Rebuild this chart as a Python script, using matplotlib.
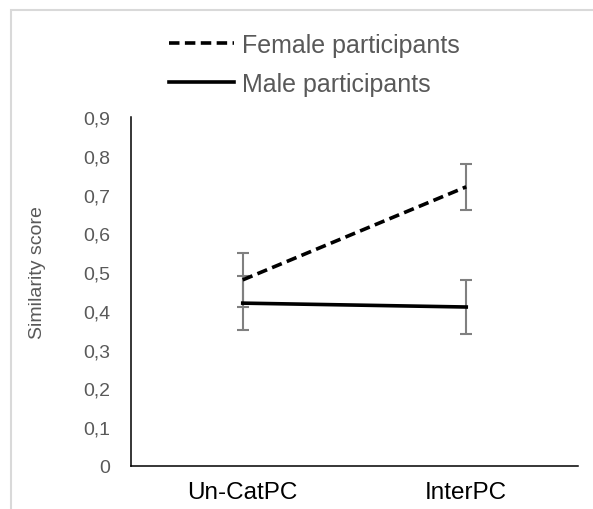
import matplotlib
matplotlib.use("Agg")
import matplotlib.pyplot as plt
from matplotlib.patches import Rectangle

categories = ["Un-CatPC", "InterPC"]
female_values = [0.48, 0.72]
female_errors = [0.07, 0.06]
male_values = [0.42, 0.41]
male_errors = [0.07, 0.07]
y_ticks = [0, 0.1, 0.2, 0.3, 0.4, 0.5, 0.6, 0.7, 0.8, 0.9]
y_tick_labels = ["0", "0,1", "0,2", "0,3", "0,4", "0,5", "0,6", "0,7", "0,8", "0,9"]

plt.rcParams['font.family'] = ['Liberation Sans', 'DejaVu Sans']
W, H = 593, 510
fig = plt.figure(figsize=(W / 100, H / 100), dpi=100)
fig.patch.set_facecolor('white')

# light gray border of the original frame
fig.patches.append(Rectangle((11 / W, -0.1), 1.2, (H - 11) / H + 0.1,
                             transform=fig.transFigure, fill=False,
                             edgecolor='#d9d9d9', linewidth=1.5, clip_on=False))

ax = fig.add_axes([131 / W, (H - 467) / H, 447 / W, 349 / H])
x = list(range(len(categories)))
gray = '#808080'
txt = '#595959'

ax.errorbar(x, female_values, yerr=female_errors, fmt='none', ecolor=gray,
            elinewidth=1.5, capsize=4.5, capthick=1.5, zorder=2)
ax.errorbar(x, male_values, yerr=male_errors, fmt='none', ecolor=gray,
            elinewidth=1.5, capsize=4.5, capthick=1.5, zorder=2)
lf, = ax.plot(x, female_values, color='black', linewidth=2.6,
              dashes=(2.9, 1.5), zorder=3, label='Female participants')
lm, = ax.plot(x, male_values, color='black', linewidth=2.6, zorder=3,
              label='Male participants')

ax.set_xlim(-0.5, 1.5)
ax.set_ylim(0, 0.9)
ax.set_yticks(y_ticks)
ax.set_yticklabels(y_tick_labels)
ax.set_xticks(x)
ax.set_xticklabels(categories)
ax.tick_params(axis='y', length=0, pad=15, labelsize=14, labelcolor=txt)
ax.tick_params(axis='x', length=0, pad=11, labelsize=17.5, labelcolor='black')
for s in ['top', 'right']:
    ax.spines[s].set_visible(False)
for s in ['left', 'bottom']:
    ax.spines[s].set_color('black')
    ax.spines[s].set_linewidth(1.1)

fig.text(37 / W, 1 - 273 / H, "Similarity score", rotation=90, ha='center',
         va='center', fontsize=14, color=txt)

fig.legend(handles=[lf, lm], loc='upper left',
           bbox_to_anchor=(169 / W, 1 - 34 / H), frameon=False,
           fontsize=18, handlelength=2.6, handletextpad=0.3,
           labelspacing=0.6, borderpad=0, borderaxespad=0, labelcolor=txt)

fig.savefig("out.png", dpi=100)
